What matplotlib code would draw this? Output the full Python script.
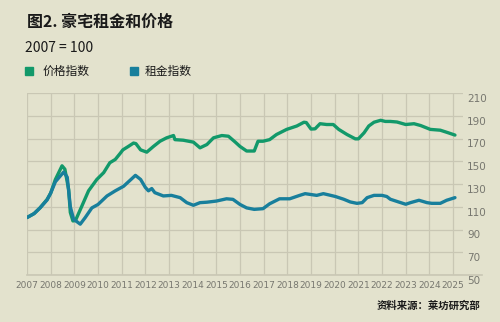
import numpy as np
import matplotlib.pyplot as plt
from matplotlib.lines import Line2D
from matplotlib.patches import Rectangle

plt.rcParams['font.family'] = ['Noto Sans CJK SC', 'DejaVu Sans']

years = list(range(2007, 2026))
yticks = [50, 70, 90, 110, 130, 150, 170, 190, 210]

# price index (green)
price_x = [2007.0, 2007.3, 2007.55, 2007.85, 2008.0, 2008.2, 2008.48, 2008.6, 2008.76,
           2008.83, 2008.94, 2009.05, 2009.32, 2009.6, 2009.95, 2010.24, 2010.5, 2010.73,
           2010.94, 2011.05, 2011.28, 2011.5, 2011.6, 2011.8, 2012.06, 2012.34, 2012.62,
           2012.9, 2013.19, 2013.25, 2013.6, 2014.03, 2014.31, 2014.6, 2014.88, 2015.23,
           2015.51, 2015.8, 2016.0, 2016.28, 2016.6, 2016.76, 2016.97, 2017.25, 2017.54,
           2017.97, 2018.4, 2018.7, 2018.8, 2019.0, 2019.17, 2019.38, 2019.66, 2019.94,
           2020.17, 2020.52, 2020.87, 2021.0, 2021.24, 2021.44, 2021.66, 2021.94, 2022.14,
           2022.35, 2022.63, 2023.0, 2023.35, 2023.63, 2024.04, 2024.46, 2024.8, 2025.08]
price_y = [100.5, 104, 109, 116.5, 122, 134, 146, 143, 125,
           105, 97.5, 98, 110.7, 124, 134, 140, 148.7, 151.6,
           157, 160, 163, 166, 165.5, 160, 158, 163, 167.6,
           170.6, 172.6, 169, 168.5, 166.8, 161.8, 164.7, 170.6, 172.6,
           172, 166.8, 163, 159, 159, 167.6, 167.6, 169, 173.5,
           178, 181, 184.3, 184, 178.3, 178.5, 183, 182.3, 182.3,
           178, 173.5, 169.7, 169.7, 175, 181, 184.3, 186, 185,
           185, 184.5, 182.3, 183, 181.4, 178, 177.3, 175, 173]

# rent index (blue)
rent_x = [2007.0, 2007.3, 2007.55, 2007.85, 2008.0, 2008.2, 2008.55, 2008.7, 2008.83,
          2008.97, 2009.25, 2009.46, 2009.74, 2010.0, 2010.38, 2010.73, 2011.08, 2011.43,
          2011.58, 2011.8, 2012.0, 2012.13, 2012.27, 2012.4, 2012.76, 2013.1, 2013.47,
          2013.75, 2014.03, 2014.31, 2014.6, 2015.0, 2015.43, 2015.7, 2016.0, 2016.28,
          2016.6, 2016.97, 2017.25, 2017.67, 2018.1, 2018.52, 2018.75, 2019.24, 2019.52,
          2019.73, 2020.03, 2020.38, 2020.66, 2020.94, 2021.16, 2021.37, 2021.66, 2022.0,
          2022.2, 2022.35, 2022.7, 2023.0, 2023.2, 2023.56, 2023.9, 2024.1, 2024.46,
          2024.73, 2025.08]
rent_y = [100.5, 104, 109, 116, 122, 132, 140.5, 136, 110,
          99, 94.7, 100.5, 109, 112, 119.5, 124, 128, 134.7,
          137.6, 134, 127, 124, 126, 122.4, 119.5, 120, 118,
          113.6, 111.3, 113.6, 114, 115, 117, 116.5, 112, 109,
          107.7, 108.3, 112.6, 117, 117, 120, 121.5, 120, 121.5,
          120.5, 119, 116.6, 114.2, 113, 113.6, 118, 120, 120,
          119, 116.6, 114.2, 112.2, 113.6, 115.7, 113.6, 113, 113,
          115.7, 118]

bg = '#e3e2cd'
grid_c = '#c9c7b4'
green = '#12996a'
blue = '#187f9c'
W, H = 500, 322

fig = plt.figure(figsize=(5, 3.22), dpi=100, facecolor=bg)
ax = fig.add_axes([27 / W, 1 - 275 / H, (463 - 27) / W, (275 - 93) / H])
ax.set_facecolor(bg)

ax.plot(price_x, price_y, color=green, lw=2.4, solid_capstyle='round', zorder=3)
ax.plot(rent_x, rent_y, color=blue, lw=2.4, solid_capstyle='round', zorder=3)

ax.set_xlim(2007, 2025.42)
ax.set_ylim(50, 210)
ax.set_xticks(years)
ax.set_xticklabels([str(y) for y in years], fontsize=6.5, color='#77776f', family='DejaVu Sans')
ax.set_yticks(yticks)
ax.set_yticklabels([])
ax.tick_params(length=0, pad=4)
ax.grid(True, color=grid_c, lw=0.9)
for s in ax.spines.values():
    s.set_visible(False)

# y labels on the right, a little below their grid lines
for v in yticks:
    py = 275 - (v - 50) * 182 / 160 + 6
    fig.text(467 / W, 1 - py / H, str(v), fontsize=7.5, color='#77776f',
             va='center', ha='left', family='DejaVu Sans')

# bottom axis line reaches past the plot
fig.add_artist(Line2D([27 / W, 482 / W], [1 - 275 / H] * 2, color=grid_c, lw=1.2))

fig.text(27 / W, 1 - 22 / H, '图2. 豪宅租金和价格', fontsize=11.5, fontweight='bold',
         color='#1a1a1a', va='center', ha='left')
fig.text(25 / W, 1 - 48 / H, '2007 = 100', fontsize=10, color='#1a1a1a',
         va='center', ha='left')

fig.add_artist(Rectangle((25 / W, 1 - 75 / H), 8 / W, 8 / H, color=green,
                         transform=fig.transFigure))
fig.text(43 / W, 1 - 71 / H, '价格指数', fontsize=8.5, color='#1a1a1a', va='center')
fig.add_artist(Rectangle((130 / W, 1 - 75 / H), 8 / W, 8 / H, color=blue,
                         transform=fig.transFigure))
fig.text(145 / W, 1 - 71 / H, '租金指数', fontsize=8.5, color='#1a1a1a', va='center')

fig.text(480 / W, 1 - 306 / H, '资料来源：莱坊研究部', fontsize=7.5, fontweight='bold',
         color='#1a1a1a', va='center', ha='right')

fig.savefig('out.png', dpi=100, facecolor=bg)
